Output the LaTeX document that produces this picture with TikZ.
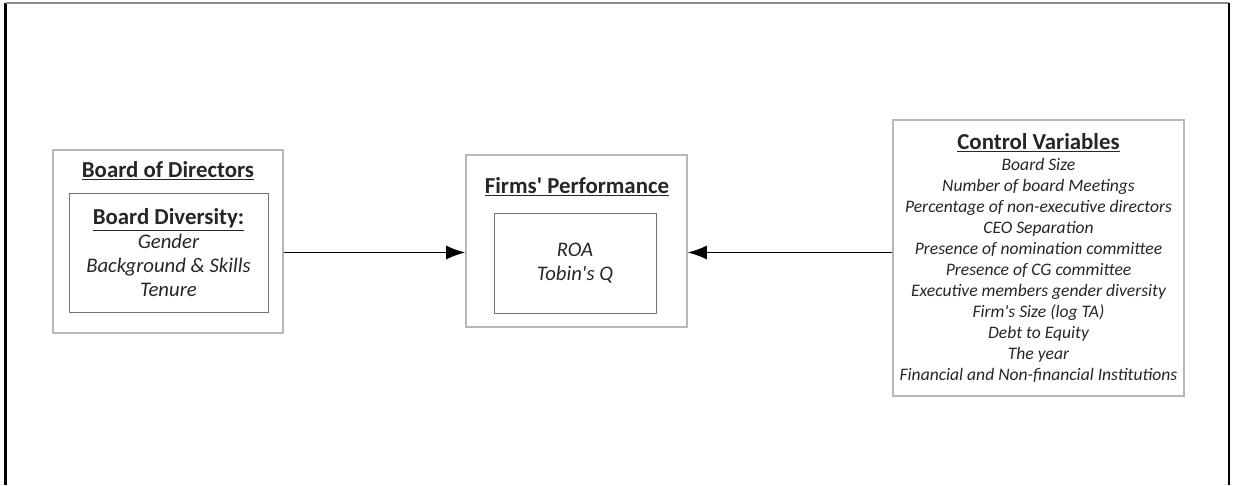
\documentclass[tikz,border=0pt]{standalone}
\usepackage{fontspec}
\setmainfont{Carlito}
\usetikzlibrary{arrows.meta}
\usetikzlibrary{positioning}
\definecolor{framegray}{gray}{0.55}
\definecolor{boxgray}{gray}{0.72}
\definecolor{linegray}{gray}{0.45}
\definecolor{inkgray}{gray}{0.15}
\tikzset{outerbox/.style = {draw=boxgray, line width=0.9pt, inner sep=0pt},
         innerbox/.style = {draw=linegray, line width=0.5pt, inner sep=0pt,
                            align=center, text=inkgray},
         heading/.style  = {font=\bfseries\fontsize{13}{15}\selectfont, text=inkgray},
         items/.style    = {font=\itshape\fontsize{10}{12}\selectfont},
         flow/.style     = {-{Latex[length=3.8mm, width=2.8mm]}, line width=0.8pt}}

\begin{document}
\begin{tikzpicture}
    \useasboundingbox (0, 0) rectangle (24.66, -9.70);
    % page frame, open at the bottom
    \draw [line width=1.2pt] (0.11, -9.70) -- (0.11, -0.06);
    \draw [framegray, line width=1.2pt] (0.11, -0.06) -- (24.58, -0.06);
    \draw [line width=1.2pt] (24.58, -0.06) -- (24.58, -9.70);

    % left: board of directors
    \node [outerbox, minimum width=4.6cm, minimum height=3.66cm] (board) at (3.36, -4.83) {};
    \node [heading] (boardtitle) at (3.36, -3.42) {\underline{Board of Directors}};
    \node [innerbox, minimum width=3.98cm, minimum height=2.38cm,
           font=\itshape\fontsize{11.8}{13.7}\selectfont] (diversity) at (3.37, -5.05)
          {{\upshape\bfseries\fontsize{13}{13.7}\selectfont\underline{Board Diversity:}}\\ Gender\\ Background \& Skills\\ Tenure};

    % middle: performance
    \node [outerbox, minimum width=4.42cm, minimum height=3.44cm] (perf) at (11.53, -4.82) {};
    \node [heading] (perftitle) at (11.54, -3.74) {\underline{Firms\textquotesingle\ Performance}};
    \node [innerbox, minimum width=3.24cm, minimum height=2.0cm,
           font=\itshape\fontsize{11.8}{13.7}\selectfont] (measures) at (11.5, -5.26)
          {ROA\\ Tobin\textquotesingle s Q};

    % right: control variables
    \node [outerbox, items, align=center, text=inkgray,
           minimum width=5.82cm, minimum height=5.52cm] (controls) at (20.77, -5.16)
          {{\upshape\bfseries\fontsize{13}{13}\selectfont\underline{Control Variables}}\\
           Board Size\\
           Number of board Meetings\\
           Percentage of non-executive directors\\
           CEO Separation\\
           Presence of nomination committee\\
           Presence of CG committee\\
           Executive members gender diversity\\
           Firm\textquotesingle s Size (log TA)\\
           Debt to Equity\\
           The year\\
           Financial and Non-financial Institutions};

    \draw [flow] (board.east |- diversity) -- (perf.west |- diversity);
    \draw [flow] (controls.west |- diversity) -- (perf.east |- diversity);
\end{tikzpicture}
\end{document}
